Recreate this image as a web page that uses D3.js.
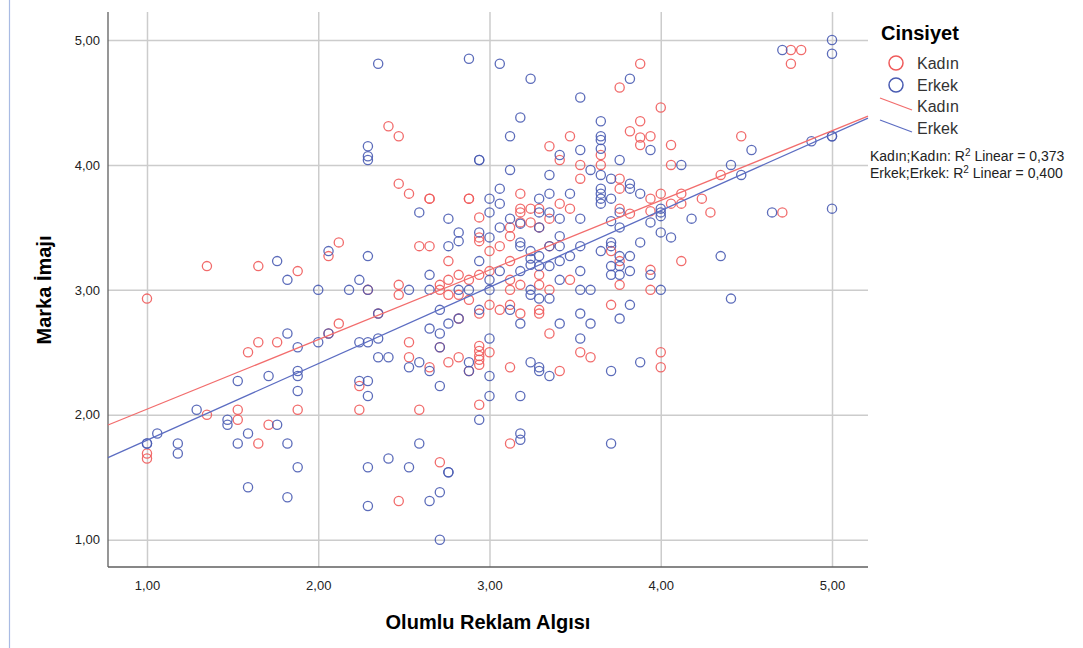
<!DOCTYPE html>
<html>
<head>
<meta charset="utf-8">
<script src="https://cdn.jsdelivr.net/npm/d3@7/dist/d3.min.js"></script>
<style>
  body { margin: 0; background: #fff; }
  svg { font-family: "Liberation Sans", Arial, sans-serif; }
  .grid line { stroke: #cccccc; stroke-width: 1.5; }
  .grid path { display: none; }
  .axis path { display: none; }
  .axis text { font-size: 13px; fill: #222; }
</style>
</head>
<body>
<svg id="chart" width="1083" height="648"></svg>
<script>
  const xTicks = [1, 2, 3, 4, 5];
  const yTicks = [1, 2, 3, 4, 5];
  const seriesNames = ['Kadın', 'Erkek'];
  const r2Values = ['0,373', '0,400'];
  // fitted lines: [intercept, slope]
  const kadinFit = [1.488, 0.557];
  const erkekFit = [1.184, 0.6125];

  // [Olumlu Reklam Algısı, Marka İmajı]
  const kadinPoints = [
    [1.00,2.93],[1.00,1.69],[1.00,1.65],[1.35,2.00],[1.35,3.19],[1.65,3.19],[1.88,3.15],[2.06,3.27],[2.12,3.38],[2.12,2.73],
    [2.06,2.65],[1.65,2.58],[1.76,2.58],[1.59,2.50],[2.24,2.23],[1.53,2.04],[1.53,1.96],[1.88,2.04],[2.24,2.04],[1.71,1.92],[1.65,1.77],
    [2.41,4.31],[2.47,4.23],[2.47,3.85],[2.53,3.77],[2.65,3.73],[2.65,3.73],[2.88,3.73],[2.88,3.73],[2.94,3.58],[3.18,3.77],
    [3.18,3.65],[3.18,3.62],[3.24,3.65],[3.29,3.65],[3.35,3.57],[3.35,4.15],[3.41,4.04],[3.41,3.69],[3.47,4.23],[3.47,3.65],
    [3.53,4.00],[3.53,3.89],[2.94,3.42],[2.94,3.39],[3.12,3.50],[3.18,3.54],[3.24,3.54],[3.29,3.50],[2.59,3.35],[2.65,3.35],
    [3.00,3.31],[3.06,3.35],[3.12,3.43],[3.35,3.35],[2.76,3.23],[3.12,3.23],[3.29,3.12],[3.00,3.15],[2.82,3.12],[2.88,3.08],
    [2.94,3.12],[3.12,3.08],[2.47,3.04],[2.47,2.96],[2.71,3.04],[2.71,3.00],[2.76,3.08],[2.76,2.96],[3.12,3.00],[3.18,3.04],
    [3.29,3.04],[3.35,3.00],[3.47,3.08],[3.71,3.31],[3.76,3.89],[3.76,3.65],[3.76,4.62],[3.65,4.08],[3.65,4.00],[3.76,3.81],
    [3.94,3.73],[4.00,3.77],[3.82,3.61],[3.94,3.63],[3.76,3.23],[3.94,3.16],[4.12,3.23],[3.88,4.22],[3.88,4.16],[4.06,4.16],
    [3.88,4.81],[4.00,4.46],[3.88,4.35],[3.82,4.27],[3.94,4.23],[4.06,4.00],[4.47,4.23],[4.35,3.92],[4.12,3.77],[4.24,3.73],
    [4.06,3.69],[4.12,3.69],[4.29,3.62],[4.71,3.62],[3.76,3.04],[3.94,3.00],[4.76,4.92],[4.82,4.92],[4.76,4.81],[3.71,2.88],
    [4.00,2.50],[4.00,2.38],[3.53,2.50],[3.59,2.46],[3.41,2.35],[2.59,2.04],[2.47,1.31],[2.71,1.62],[3.12,1.77],[2.94,2.08],
    [2.94,2.55],[2.94,2.51],[2.94,2.47],[2.94,2.44],[2.94,2.40],[3.00,2.50],[2.82,2.46],[2.76,2.42],[2.65,2.38],[2.53,2.46],
    [2.53,2.58],[3.12,2.38],[3.35,2.65],[3.18,2.81],[3.29,2.84],[3.29,2.81],[3.06,2.84],[3.00,2.88],[3.12,2.88],[2.94,2.81],
    [2.88,2.92],[2.82,2.96],[2.71,2.54],[2.88,2.35],[2.82,2.77],[2.35,2.81],[2.29,3.00]
  ];

  const erkekPoints = [
    [1.00,1.77],[1.00,1.77],[1.06,1.85],[1.18,1.77],[1.18,1.69],[1.29,2.04],[1.47,1.96],[1.47,1.92],[1.53,2.27],[1.53,1.77],
    [1.59,1.85],[1.59,1.42],[1.71,2.31],[1.76,1.92],[1.76,3.23],[1.82,3.08],[1.82,2.65],[1.82,1.77],[1.82,1.34],[1.88,2.54],
    [1.88,2.35],[1.88,2.31],[1.88,2.19],[1.88,1.58],[2.00,3.00],[2.00,2.58],[2.06,3.31],[2.06,2.65],[2.18,3.00],[2.24,3.08],
    [2.24,2.58],[2.24,2.27],[2.29,2.58],[2.29,2.27],[2.29,2.15],[2.29,1.58],[2.29,1.27],[2.29,3.27],[2.29,4.15],[2.29,4.07],
    [2.29,4.04],[2.29,3.00],[2.35,4.81],[2.35,2.46],[2.35,2.61],[2.35,2.81],[2.41,2.46],[2.41,1.65],[2.53,3.00],[2.53,2.38],
    [2.53,1.58],[2.59,3.62],[2.59,2.42],[2.59,1.77],[2.65,3.00],[2.65,3.12],[2.65,2.69],[2.65,2.35],[2.65,1.31],[2.71,2.84],
    [2.71,2.65],[2.71,2.23],[2.71,1.38],[2.71,1.00],[2.71,2.54],[2.76,3.57],[2.76,3.35],[2.76,2.73],[2.76,1.54],[2.76,1.54],
    [2.82,3.46],[2.82,3.39],[2.82,3.00],[2.82,2.77],[2.88,4.85],[2.88,3.00],[2.88,2.42],[2.88,2.35],[2.94,4.04],[2.94,4.04],
    [2.94,3.46],[2.94,3.23],[2.94,2.84],[2.94,1.96],[3.00,3.73],[3.00,3.62],[3.00,3.42],[3.00,3.08],[3.00,3.00],[3.00,2.61],
    [3.00,2.31],[3.00,2.15],[3.06,4.81],[3.06,3.81],[3.06,3.69],[3.06,3.50],[3.06,3.15],[3.12,4.23],[3.12,3.96],[3.12,3.57],
    [3.12,2.84],[3.18,4.38],[3.18,3.38],[3.18,3.35],[3.18,3.53],[3.18,3.15],[3.18,2.73],[3.18,2.15],[3.18,1.85],[3.18,1.80],
    [3.24,4.69],[3.24,3.25],[3.24,3.20],[3.24,3.31],[3.24,3.00],[3.24,2.96],[3.24,2.42],[3.29,3.73],[3.29,3.62],[3.29,3.50],
    [3.29,3.27],[3.29,3.19],[3.29,2.93],[3.29,2.38],[3.29,2.35],[3.35,3.92],[3.35,3.77],[3.35,3.62],[3.35,3.35],[3.35,3.19],
    [3.35,2.93],[3.35,2.31],[3.41,4.08],[3.41,3.57],[3.41,3.43],[3.41,3.35],[3.41,3.23],[3.41,3.08],[3.41,2.73],[3.47,3.77],
    [3.47,3.27],[3.53,4.54],[3.53,4.12],[3.53,3.57],[3.53,3.35],[3.53,3.15],[3.53,3.00],[3.53,2.81],[3.53,2.61],[3.59,3.96],
    [3.59,3.00],[3.59,2.73],[3.65,4.35],[3.65,4.23],[3.65,4.20],[3.65,4.13],[3.65,3.92],[3.65,3.81],[3.65,3.77],[3.65,3.73],
    [3.65,3.69],[3.65,3.31],[3.71,3.89],[3.71,3.73],[3.71,3.55],[3.71,3.38],[3.71,3.35],[3.71,3.19],[3.71,3.12],[3.71,2.35],
    [3.71,1.77],[3.76,4.04],[3.76,3.62],[3.76,3.50],[3.76,3.27],[3.76,3.19],[3.76,3.12],[3.76,2.77],[3.82,4.69],[3.82,3.85],
    [3.82,3.81],[3.82,3.27],[3.82,3.15],[3.82,2.88],[3.88,3.77],[3.88,3.38],[3.88,2.42],[3.94,4.12],[3.94,3.54],[3.94,3.12],
    [4.00,3.65],[4.00,3.62],[4.00,3.59],[4.00,3.46],[4.00,3.00],[4.06,3.42],[4.12,4.00],[4.18,3.57],[4.35,3.27],[4.41,4.00],
    [4.41,2.93],[4.47,3.92],[4.53,4.12],[4.65,3.62],[4.71,4.92],[4.88,4.19],[5.00,5.00],[5.00,4.89],[5.00,4.23],[5.00,4.23],
    [5.00,3.65]
  ];

  const red = '#ef5b5b';
  const blue = '#4a5cb2';
  const redLine = '#f26d6d';
  const blueLine = '#5c6dc2';

  const plot = { left: 108, right: 868, top: 12, bottom: 567 };
  const svg = d3.select('#chart');

  // thin frame line on the left of the output window
  svg.append('line')
    .attr('x1', 9.5).attr('x2', 9.5)
    .attr('y1', 0).attr('y2', 648)
    .attr('stroke', '#a9bbe3')
    .attr('stroke-width', 1.2);

  const xScale = d3.scaleLinear()
    .domain([0.7723, 5.2102])
    .range([plot.left, plot.right]);

  const yScale = d3.scaleLinear()
    .domain([0.7815, 5.2241])
    .range([plot.bottom, plot.top]);

  const fmt = d => d.toFixed(2).replace('.', ',');

  // grid lines
  svg.append('g')
    .attr('class', 'grid')
    .attr('transform', `translate(0, ${plot.bottom})`)
    .call(d3.axisBottom(xScale)
      .tickValues(xTicks)
      .tickSize(-(plot.bottom - plot.top))
      .tickFormat(''));

  svg.append('g')
    .attr('class', 'grid')
    .attr('transform', `translate(${plot.left}, 0)`)
    .call(d3.axisLeft(yScale)
      .tickValues(yTicks)
      .tickSize(-(plot.right - plot.left))
      .tickFormat(''));

  // axes
  svg.append('g')
    .attr('class', 'axis')
    .attr('transform', `translate(0, ${plot.bottom})`)
    .call(d3.axisBottom(xScale).tickValues(xTicks).tickSize(0).tickPadding(14).tickFormat(fmt));

  svg.append('g')
    .attr('class', 'axis')
    .attr('transform', `translate(${plot.left}, 0)`)
    .call(d3.axisLeft(yScale).tickValues(yTicks).tickSize(0).tickPadding(8).tickFormat(fmt));

  svg.append('line')
    .attr('x1', plot.left).attr('x2', plot.left)
    .attr('y1', plot.top).attr('y2', plot.bottom)
    .attr('stroke', '#5f5f5f').attr('stroke-width', 1.3);

  svg.append('line')
    .attr('x1', plot.left).attr('x2', plot.right)
    .attr('y1', plot.bottom).attr('y2', plot.bottom)
    .attr('stroke', '#5f5f5f').attr('stroke-width', 1.3);

  // axis titles
  svg.append('text')
    .text('Olumlu Reklam Algısı')
    .attr('x', 488)
    .attr('y', 629)
    .attr('text-anchor', 'middle')
    .style('font-size', '20px')
    .style('font-weight', 'bold');

  svg.append('text')
    .text('Marka İmajı')
    .attr('transform', 'translate(51, 290) rotate(-90)')
    .attr('text-anchor', 'middle')
    .style('font-size', '20px')
    .style('font-weight', 'bold');

  // points
  const drawPoints = (points, color) => {
    svg.append('g')
      .selectAll('circle')
      .data(points)
      .enter()
      .append('circle')
      .attr('cx', d => xScale(d[0]))
      .attr('cy', d => yScale(d[1]))
      .attr('r', 4.6)
      .attr('fill', 'none')
      .attr('stroke', color)
      .attr('stroke-opacity', 0.9)
      .attr('stroke-width', 1.3);
  };
  drawPoints(kadinPoints, red);
  drawPoints(erkekPoints, blue);

  // fit lines across the whole x range
  const drawFit = (fit, color) => {
    const [x0, x1] = xScale.domain();
    svg.append('line')
      .attr('x1', xScale(x0)).attr('y1', yScale(fit[0] + fit[1] * x0))
      .attr('x2', xScale(x1)).attr('y2', yScale(fit[0] + fit[1] * x1))
      .attr('stroke', color)
      .attr('stroke-width', 1.3);
  };
  drawFit(kadinFit, redLine);
  drawFit(erkekFit, blueLine);

  // legend
  const legend = svg.append('g').attr('id', 'legend');

  legend.append('text')
    .text('Cinsiyet')
    .attr('x', 881).attr('y', 40)
    .style('font-size', '20px')
    .style('font-weight', 'bold');

  [red, blue].forEach((c, i) => {
    legend.append('circle')
      .attr('cx', 896).attr('cy', 63 + i * 22)
      .attr('r', 7)
      .attr('fill', 'none')
      .attr('stroke', c)
      .attr('stroke-width', 1.5);
    legend.append('text')
      .text(seriesNames[i])
      .attr('x', 917).attr('y', 69 + i * 22)
      .style('font-size', '16px')
      .style('fill', '#333');
  });

  [redLine, blueLine].forEach((c, i) => {
    legend.append('line')
      .attr('x1', 880).attr('y1', 98 + i * 22)
      .attr('x2', 912).attr('y2', 110 + i * 22)
      .attr('stroke', c)
      .attr('stroke-width', 1.3);
    legend.append('text')
      .text(seriesNames[i])
      .attr('x', 917).attr('y', 112 + i * 22)
      .style('font-size', '16px')
      .style('fill', '#333');
  });

  r2Values.forEach((v, i) => {
    const t = legend.append('text')
      .attr('x', 870).attr('y', 161 + i * 17)
      .style('font-size', '14px')
      .style('fill', '#222');
    t.append('tspan').text(`${seriesNames[i]};${seriesNames[i]}: R`);
    t.append('tspan').text('2').attr('dy', -5).style('font-size', '10px');
    t.append('tspan').text(` Linear = ${v}`).attr('dy', 5);
  });
</script>
</body>
</html>
